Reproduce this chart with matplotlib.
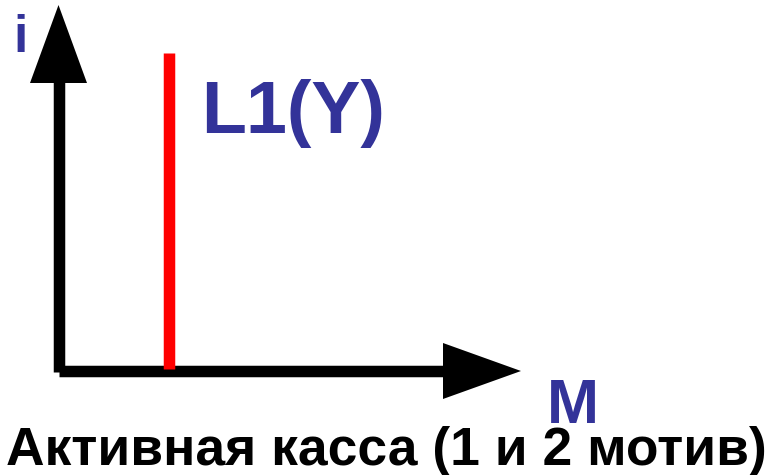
import matplotlib
matplotlib.use("Agg")
import matplotlib.pyplot as plt
from matplotlib.patches import Polygon

W, H, DPI = 773, 475, 100

# labels
y_label = "i"
x_label = "M"
line_label = "L1(Y)"
title_text = "Активная касса (1 и 2 мотив)"

# geometry in pixel coordinates (y downward)
origin = (58.5, 371)
y_axis_top = 83
x_axis_end = 443
y_head = [(30, 83), (87, 83), (58.5, 5)]
x_head = [(443, 343), (443, 399), (521, 371)]
l1_x = 169
l1_top = 53
l1_bottom = 369

blue = "#333399"
px = 72 / DPI  # points per pixel

fig = plt.figure(figsize=(W / DPI, H / DPI), dpi=DPI)
ax = fig.add_axes([0, 0, 1, 1])
ax.set_xlim(0, W)
ax.set_ylim(H, 0)
ax.axis("off")

lw = 11.5 * px
ax.plot([origin[0], origin[0]], [origin[1] + 1, y_axis_top - 5], color="black", lw=lw, solid_capstyle="butt")
ax.plot([origin[0], x_axis_end + 5], [origin[1], origin[1]], color="black", lw=lw, solid_capstyle="butt")
ax.add_patch(Polygon(y_head, closed=True, color="black", lw=0))
ax.add_patch(Polygon(x_head, closed=True, color="black", lw=0))
ax.plot([l1_x, l1_x], [l1_bottom, l1_top], color="#ff0000", lw=11.5 * px, solid_capstyle="butt")

font = ["Liberation Sans", "DejaVu Sans"]
ax.text(13, 52, y_label, color=blue, fontsize=37, fontweight="bold", family=font, ha="left", va="baseline")
ax.text(201, 133, line_label, color=blue, fontsize=53, fontweight="bold", family=font, ha="left", va="baseline")
ax.text(573, 423, x_label, color=blue, fontsize=45, fontweight="bold", family=font, ha="center", va="baseline")
t = ax.text(386.5, 465, title_text, color="black", fontsize=41, fontweight="bold", family=font, ha="center", va="baseline")

fig.canvas.draw()
r = fig.canvas.get_renderer()
w = t.get_window_extent(r).width
t.set_fontsize(41 * 762 / w)

fig.savefig("out.png", dpi=DPI)
